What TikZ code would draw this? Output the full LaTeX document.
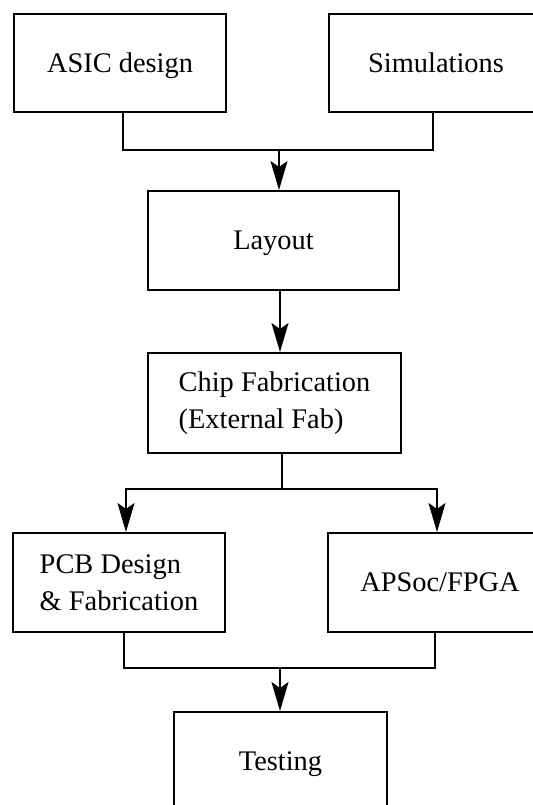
\documentclass[tikz,border=0pt]{standalone}
\usepackage{fontspec}
\setmainfont{Liberation Serif}
\usetikzlibrary{arrows.meta,calc}

\begin{document}
\begin{tikzpicture}[
  x=0.5pt, y=-0.5pt,
  box/.style={draw, line width=1pt, inner sep=0pt, align=center,
              font=\fontsize{14.2}{18.5}\selectfont},
  oneline/.style={text height=9.4pt, text depth=0pt},
  link/.style={line width=1pt},
  flow/.style={line width=1pt, -{Stealth[length=14.5pt,width=8.5pt,inset=3pt]}}
]
\useasboundingbox (0,0) rectangle (532,805);

% design stage
\node[box, oneline, minimum width=106.25pt, minimum height=49.25pt] (asic) at (120,63) {ASIC design};
\node[box, oneline, minimum width=107pt, minimum height=49.25pt] (sim) at (436,63) {Simulations};
\node[box, oneline, minimum width=125.5pt, minimum height=49.5pt] (layout) at (273.5,240.5) {Layout};
\node[box, minimum width=126.5pt, minimum height=50pt, align=left] (chip) at (274.5,403)
  {Chip Fabrication\\(External Fab)};

% board stage
\node[box, minimum width=106.25pt, minimum height=49.5pt, align=left] (pcb) at (119,582.5)
  {PCB Design\\\& Fabrication};
\node[box, oneline, minimum width=112pt, minimum height=49.5pt] (fpga) at (440,582.5) {APSoc/FPGA};
\node[box, oneline, minimum width=106.5pt, minimum height=49pt] (test) at (280.5,761) {Testing};

% junction points
\coordinate (j1) at (279,150);
\coordinate (j2) at (282,489);
\coordinate (j3) at (280,668);

% connectors
\draw[link] ([xshift=1.5pt]asic.south) |- (j1);
\draw[link] ([xshift=-1.5pt]sim.south) |- (j1);
\draw[flow] (j1) -- (j1 |- layout.north);

\draw[flow] ([xshift=3.25pt]layout.south) -- ([xshift=3.25pt]layout.south |- chip.north);

\draw[link] ([xshift=3.75pt]chip.south) -- (j2);
\draw[flow] (j2) -| ([xshift=3.5pt]pcb.north);
\draw[flow] (j2) -| ([xshift=-1.5pt]fpga.north);

\draw[link] ([xshift=2.5pt]pcb.south) |- (j3);
\draw[link] ([xshift=-2.5pt]fpga.south) |- (j3);
\draw[flow] (j3) -- (j3 |- test.north);
\end{tikzpicture}
\end{document}
